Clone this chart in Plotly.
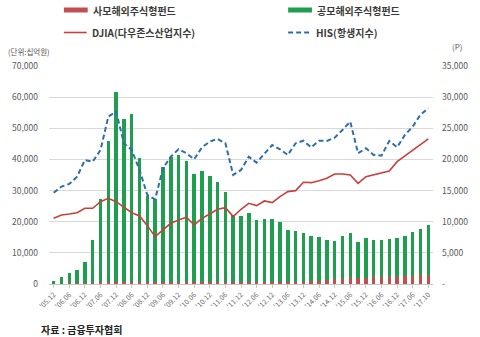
import plotly.graph_objects as go

# Quarter-end periods ('05.12 ~ '17.10)
periods = [
    "'05.12", "'06.03", "'06.06", "'06.09", "'06.12", "'07.03", "'07.06", "'07.09",
    "'07.12", "'08.03", "'08.06", "'08.09", "'08.12", "'09.03", "'09.06", "'09.09",
    "'09.12", "'10.03", "'10.06", "'10.09", "'10.12", "'11.03", "'11.06", "'11.09",
    "'11.12", "'12.03", "'12.06", "'12.09", "'12.12", "'13.03", "'13.06", "'13.09",
    "'13.12", "'14.03", "'14.06", "'14.09", "'14.12", "'15.03", "'15.06", "'15.09",
    "'15.12", "'16.03", "'16.06", "'16.09", "'16.12", "'17.03", "'17.06", "'17.09",
    "'17.10",
]

# 사모해외주식형펀드 (십억원)
private_fund = [
    100, 150, 200, 250, 300, 400, 500, 600,
    700, 700, 700, 600, 500, 500, 500, 500,
    500, 500, 500, 500, 500, 500, 500, 500,
    500, 500, 500, 500, 550, 600, 650, 700,
    800, 900, 1000, 1200, 1500, 1700, 1800, 1900,
    2000, 2100, 2200, 2300, 2400, 2600, 2700, 2900,
    3000,
]

# 공모해외주식형펀드 (십억원)
public_fund = [
    1000, 2250, 3200, 4250, 6900, 13600, 26700, 45200,
    60900, 52300, 54000, 39800, 27600, 26700, 37200, 40400,
    41000, 39000, 34900, 35800, 34300, 32400, 28900, 21500,
    21400, 22200, 20100, 20300, 20250, 19200, 16750, 16400,
    15500, 14600, 14200, 12900, 12300, 13700, 14500, 11700,
    12700, 12000, 11900, 12200, 12300, 12800, 13900, 14800,
    16000,
]

# DJIA(다우존스산업지수), points
djia = [
    10550, 11080, 11240, 11450, 12150, 12150, 13220, 13760,
    13220, 12260, 11450, 10920, 9370, 7600, 8670, 9750,
    10280, 10710, 9480, 10550, 11240, 12000, 12260, 10820,
    12000, 12960, 12580, 13330, 13060, 14030, 14830, 14990,
    16330, 16270, 16590, 16970, 17670, 17670, 17510, 16170,
    17240, 17510, 17780, 18150, 19640, 20560, 21410, 22400,
    23300,
]

# HIS(항생지수), points
hsi = [
    14660, 15630, 16060, 17240, 19910, 19640, 21520, 26870,
    27670, 22600, 21520, 18310, 14290, 13600, 18580, 20440,
    21630, 20990, 20030, 21950, 22860, 23290, 22600, 17510,
    18310, 20440, 19480, 20990, 22320, 21630, 20720, 22600,
    23010, 21950, 23010, 22970, 23500, 24730, 26070, 20990,
    21790, 20720, 20610, 22970, 21950, 23930, 25260, 27200,
    28200,
]

left_ticks = [0, 10000, 20000, 30000, 40000, 50000, 60000, 70000]
right_ticks = [0, 5000, 10000, 15000, 20000, 25000, 30000, 35000]
right_tick_text = ["-", "5,000", "10,000", "15,000", "20,000", "25,000", "30,000", "35,000"]

RED_BAR = "#C0504D"
GREEN_BAR = "#1E9E4E"
RED_LINE = "#C8403C"
BLUE_LINE = "#2F6EAA"
TEXT = "#3A3A3A"
FONT = "Noto Sans CJK KR, Noto Sans, sans-serif"

fig = go.Figure()
fig.add_trace(go.Bar(x=periods, y=private_fund, marker_color=RED_BAR,
                     marker_line_width=0, name="사모해외주식형펀드", yaxis="y"))
fig.add_trace(go.Bar(x=periods, y=public_fund, marker_color=GREEN_BAR,
                     marker_line_width=0, name="공모해외주식형펀드", yaxis="y"))
fig.add_trace(go.Scatter(x=periods, y=djia, mode="lines", name="DJIA(다우존스산업지수)",
                         line=dict(color=RED_LINE, width=1.6), yaxis="y2"))
fig.add_trace(go.Scatter(x=periods, y=hsi, mode="lines", name="HIS(항생지수)",
                         line=dict(color=BLUE_LINE, width=2, dash="5px,3px"), yaxis="y2"))

W, H = 480, 337
ML, MR, MT, MB = 48, 45, 66, 53
PW, PH = W - ML - MR, H - MT - MB


def px(x):
    return (x - ML) / PW


def py(y):
    return (H - MB - y) / PH


shapes = [
    # legend swatches
    dict(type="rect", xref="paper", yref="paper", x0=px(63), x1=px(87),
         y0=py(12.5), y1=py(7.5), fillcolor=RED_BAR, line_width=0),
    dict(type="rect", xref="paper", yref="paper", x0=px(289), x1=px(313),
         y0=py(12.5), y1=py(7.5), fillcolor=GREEN_BAR, line_width=0),
    dict(type="line", xref="paper", yref="paper", x0=px(63), x1=px(86),
         y0=py(32.5), y1=py(32.5), line=dict(color=RED_LINE, width=1.6)),
    dict(type="line", xref="paper", yref="paper", x0=px(289), x1=px(312),
         y0=py(32.5), y1=py(32.5), line=dict(color=BLUE_LINE, width=2, dash="5px,3px")),
]

annotations = [
    dict(text="<b>사모해외주식형펀드</b>", x=px(90), y=py(10), xanchor="left", yanchor="middle"),
    dict(text="<b>공모해외주식형펀드</b>", x=px(316), y=py(10), xanchor="left", yanchor="middle"),
    dict(text="<b>DJIA(다우존스산업지수)</b>", x=px(89), y=py(32.5), xanchor="left", yanchor="middle"),
    dict(text="<b>HIS(항생지수)</b>", x=px(315), y=py(32.5), xanchor="left", yanchor="middle"),
]
for a in annotations:
    a.update(xref="paper", yref="paper", showarrow=False,
             font=dict(family=FONT, size=10, color=TEXT))

annotations += [
    dict(text="(단위:십억원)", x=px(5), y=py(52), xanchor="left", yanchor="middle",
         xref="paper", yref="paper", showarrow=False,
         font=dict(family=FONT, size=7.5, color="#555555")),
    dict(text="(P)", x=px(452), y=py(46), xanchor="left", yanchor="middle",
         xref="paper", yref="paper", showarrow=False,
         font=dict(family=FONT, size=8, color="#555555")),
    dict(text="<b>자료 : 금융투자협회</b>", x=px(38), y=py(329), xanchor="left", yanchor="middle",
         xref="paper", yref="paper", showarrow=False,
         font=dict(family=FONT, size=10, color="#222222")),
]

fig.update_layout(
    width=W, height=H,
    margin=dict(l=ML, r=MR, t=MT, b=MB),
    paper_bgcolor="white", plot_bgcolor="white",
    barmode="stack", bargap=0.55,
    showlegend=False,
    font=dict(family=FONT, color="#595959"),
    xaxis=dict(
        type="category",
        tickvals=periods[0::2],
        tickangle=-45,
        tickfont=dict(size=7, color="#666666"),
        showgrid=False,
        showline=True, linecolor="#C8C8C8", linewidth=1,
        ticks="outside", ticklen=3, tickcolor="#C8C8C8",
        range=[-0.6, len(periods) - 0.4],
    ),
    yaxis=dict(
        range=[0, 70000],
        tickvals=left_ticks,
        tickformat=",",
        tickfont=dict(size=8.5, color="#595959"),
        showgrid=True, gridcolor="#D9D9D9", gridwidth=1,
        zeroline=False, ticks="", ticklabelstandoff=10,
    ),
    yaxis2=dict(
        range=[0, 35000],
        overlaying="y", side="right",
        tickvals=right_ticks, ticktext=right_tick_text,
        tickfont=dict(size=8.5, color="#595959"),
        showgrid=False, zeroline=False, ticks="", ticklabelstandoff=8,
    ),
    shapes=shapes,
    annotations=annotations,
)

fig.write_html("out.html")
